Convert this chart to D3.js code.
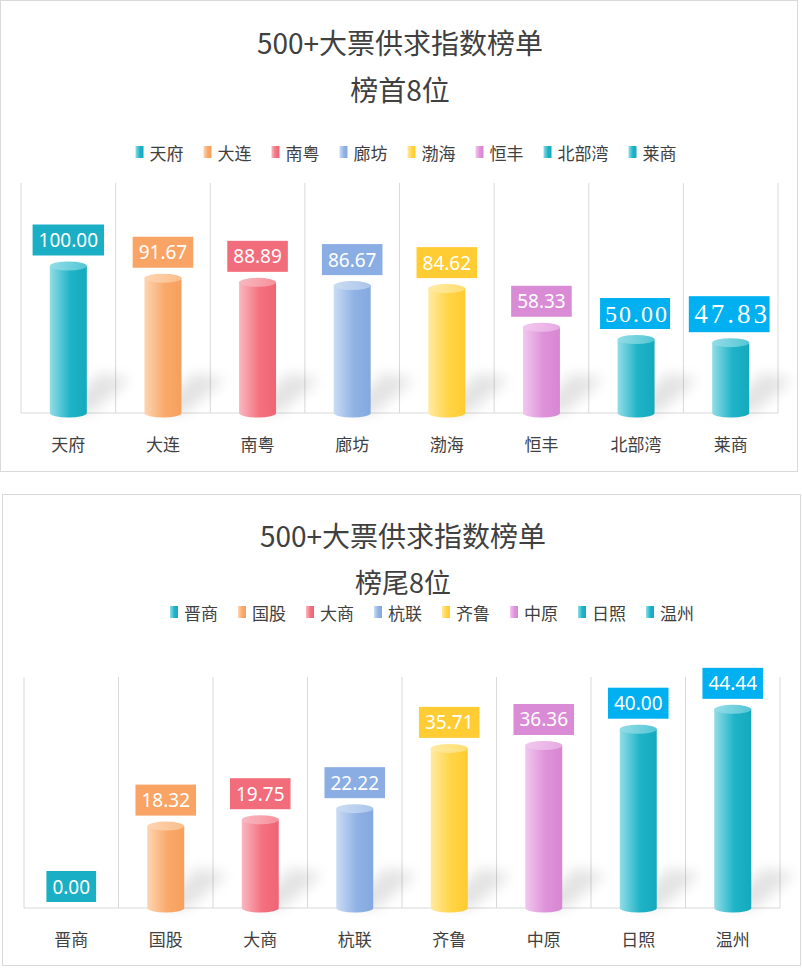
<!DOCTYPE html>
<html>
<head>
<meta charset="utf-8">
<script src="https://cdn.jsdelivr.net/npm/d3@7"></script>
<style>
  body { margin: 0; background: #fff; }
  svg { display: block; }
</style>
</head>
<body>
<svg id="chart" width="802" height="968"></svg>
<script>
// ---- data ----
const topNames  = ["天府", "大连", "南粤", "廊坊", "渤海", "恒丰", "北部湾", "莱商"];
const topValues = [100.00, 91.67, 88.89, 86.67, 84.62, 58.33, 50.00, 47.83];
const tailNames  = ["晋商", "国股", "大商", "杭联", "齐鲁", "中原", "日照", "温州"];
const tailValues = [0.00, 18.32, 19.75, 22.22, 35.71, 36.36, 40.00, 44.44];
const titleLine1 = "500+大票供求指数榜单";
const topSubtitle = "榜首8位";
const tailSubtitle = "榜尾8位";

// colour palette, in series order
const palette = [
  { light: "#93DDE7", base: "#1EB3C7", dark: "#14A9BD", label: "#1AAFC4" },
  { light: "#FDD5B2", base: "#F9A96A", dark: "#F79F5D", label: "#F9A465" },
  { light: "#F9B8C0", base: "#F4717F", dark: "#F06475", label: "#F26D7B" },
  { light: "#CBDCF3", base: "#90B2E5", dark: "#84A8DF", label: "#8AADE3" },
  { light: "#FFEAA3", base: "#FFD445", dark: "#FFCC30", label: "#FFCC33" },
  { light: "#F1C8EE", base: "#DE92D9", dark: "#D886D3", label: "#DA8BD6" },
  { light: "#93DDE7", base: "#1EB3C7", dark: "#14A9BD", label: "#00B0F0" },
  { light: "#93DDE7", base: "#1EB3C7", dark: "#14A9BD", label: "#00B0F0" }
];
const tailLabelColors = ["#1AAFC4", "#F9A465", "#F26D7B", "#8AADE3", "#FFCC33", "#DA8BD6", "#00B0F0", "#00B0F0"];

const svg = d3.select("#chart");
const defs = svg.append("defs");

// gradients for the cylinders and the legend keys
palette.forEach((p, i) => {
  const g = defs.append("linearGradient").attr("id", "body" + i)
      .attr("x1", "0%").attr("x2", "100%").attr("y1", "0%").attr("y2", "0%");
  g.append("stop").attr("offset", "0%").attr("stop-color", p.light);
  g.append("stop").attr("offset", "55%").attr("stop-color", p.base);
  g.append("stop").attr("offset", "100%").attr("stop-color", p.dark);
  const t = defs.append("linearGradient").attr("id", "cap" + i)
      .attr("x1", "0%").attr("x2", "100%").attr("y1", "0%").attr("y2", "0%");
  t.append("stop").attr("offset", "0%").attr("stop-color", p.light);
  t.append("stop").attr("offset", "100%").attr("stop-color", d3.interpolateRgb(p.light, p.base)(0.55));
});

const blur = defs.append("filter").attr("id", "shadowBlur")
    .attr("x", "-60%").attr("y", "-60%").attr("width", "220%").attr("height", "220%");
blur.append("feGaussianBlur").attr("stdDeviation", 7);

const cjk = "'Noto Sans CJK SC', 'Noto Sans', sans-serif";

function drawPanel(cfg) {
  const g = svg.append("g");

  // frame
  g.append("rect")
      .attr("x", cfg.frame[0] + 0.5).attr("y", cfg.frame[1] + 0.5)
      .attr("width", cfg.frame[2]).attr("height", cfg.frame[3])
      .attr("fill", "#fff").attr("stroke", "#D9D9D9");

  // titles
  g.append("text").attr("x", cfg.titleX).attr("y", cfg.titleY[0])
      .attr("text-anchor", "middle").attr("dominant-baseline", "central")
      .style("font-family", cjk).style("font-size", "28px").attr("fill", "#404040")
      .text(titleLine1);
  g.append("text").attr("x", cfg.titleX).attr("y", cfg.titleY[1])
      .attr("text-anchor", "middle").attr("dominant-baseline", "central")
      .style("font-family", cjk).style("font-size", cfg.subtitleSize).attr("fill", "#404040")
      .text(cfg.subtitle);

  // legend
  const legend = g.append("g");
  let lx = 0;
  cfg.names.forEach((name, i) => {
    const item = legend.append("g").attr("transform", `translate(${lx},0)`);
    item.append("rect").attr("x", 0).attr("y", -6).attr("width", 8).attr("height", 12)
        .attr("fill", `url(#body${i})`);
    const t = item.append("text").attr("x", 14).attr("y", 0)
        .attr("dominant-baseline", "central")
        .style("font-family", cjk).style("font-size", "17px").attr("fill", "#404040")
        .text(name);
    lx += 14 + t.node().getComputedTextLength() + 20;
  });
  const legendW = lx - 20;
  legend.attr("transform", `translate(${cfg.legendX - legendW / 2},${cfg.legendY})`);

  // scales
  const x = d3.scaleBand().domain(cfg.names).range(cfg.xRange).padding(0);
  const y = d3.scaleLinear().domain(cfg.yDomain).range(cfg.yRange);
  const base = y(0);

  // vertical gridlines at band edges
  const edges = cfg.names.map(n => x(n)).concat([cfg.xRange[1]]);
  g.append("g").selectAll("line").data(edges).join("line")
      .attr("x1", d => d).attr("x2", d => d)
      .attr("y1", cfg.gridTop).attr("y2", base)
      .attr("stroke", "#D9D9D9");
  g.append("line")
      .attr("x1", cfg.xRange[0]).attr("x2", cfg.xRange[1])
      .attr("y1", base).attr("y2", base)
      .attr("stroke", "#D9D9D9");

  // category axis
  const axis = g.append("g").attr("transform", `translate(0,${cfg.axisY})`)
      .call(d3.axisBottom(x).tickSize(0).tickPadding(0));
  axis.select(".domain").remove();
  axis.selectAll("text")
      .attr("dy", null).attr("dominant-baseline", "central")
      .style("font-family", cjk).style("font-size", "17px").attr("fill", "#404040");

  const rx = 18.5, ry = 4.5;
  const bars = g.append("g").selectAll("g.bar")
      .data(cfg.names.map((n, i) => ({ name: n, value: cfg.values[i], i })))
      .join("g").attr("class", "bar");

  // soft cast shadow
  bars.filter(d => d.value > 0).append("path")
      .attr("d", d => {
        const cx = x(d.name) + x.bandwidth() / 2;
        return `M${cx - 6},${base} L${cx + rx + 4},${base} L${cx + rx + 44},${base - 34} L${cx + rx + 12},${base - 40} Z`;
      })
      .attr("fill", "#000").attr("opacity", 0.11)
      .attr("filter", "url(#shadowBlur)");

  // cylinder body
  bars.filter(d => d.value > 0).append("path")
      .attr("d", d => {
        const cx = x(d.name) + x.bandwidth() / 2;
        const top = y(d.value);
        return `M${cx - rx},${top} L${cx - rx},${base} A${rx},${ry} 0 0 0 ${cx + rx},${base} L${cx + rx},${top} Z`;
      })
      .attr("fill", d => `url(#body${d.i})`);

  // cylinder cap
  bars.filter(d => d.value > 0).append("ellipse")
      .attr("cx", d => x(d.name) + x.bandwidth() / 2)
      .attr("cy", d => y(d.value))
      .attr("rx", rx).attr("ry", ry)
      .attr("fill", d => `url(#cap${d.i})`);

  // value labels in coloured boxes
  bars.each(function(d) {
    const cx = x(d.name) + x.bandwidth() / 2;
    const special = cfg.serifLabels.includes(d.i);
    const big = special && d.i === 7;
    const lg = d3.select(this).append("g");
    const txt = lg.append("text")
        .attr("x", cx).attr("text-anchor", "middle").attr("dominant-baseline", "central")
        .style("font-family", special ? "'Liberation Serif', serif" : "'Noto Sans', sans-serif")
        .style("font-size", special ? (big ? "27px" : "24px") : "19px")
        .style("letter-spacing", special ? (big ? "3px" : "2px") : null)
        .attr("fill", "#fff")
        .text(d3.format(".2f")(d.value));
    let tw = txt.node().getComputedTextLength();
    const ls = special ? (big ? 3 : 2) : 0;
    const h = special ? (big ? 36 : 31) : 31;
    const padX = special ? 4 : 6;
    const bottom = (d.value > 0 ? y(d.value) - ry : base) - 6;
    lg.insert("rect", "text")
        .attr("x", cx - tw / 2 - padX).attr("y", bottom - h)
        .attr("width", tw + padX * 2 - ls).attr("height", h)
        .attr("fill", cfg.labelColors[d.i]);
    txt.attr("x", cx + ls / 2).attr("y", bottom - h / 2);
  });
}

drawPanel({
  frame: [0, 0, 797, 471],
  titleX: 400, titleY: [42, 89], subtitle: topSubtitle, subtitleSize: "28px",
  names: topNames, values: topValues,
  labelColors: palette.map(p => p.label),
  serifLabels: [6, 7],
  legendX: 406, legendY: 152,
  xRange: [21, 778], yDomain: [0, 100], yRange: [413, 266],
  gridTop: 183, axisY: 443
});

drawPanel({
  frame: [2, 494, 798, 471],
  titleX: 403, titleY: [535, 581], subtitle: tailSubtitle, subtitleSize: "27px",
  names: tailNames, values: tailValues,
  labelColors: tailLabelColors,
  serifLabels: [],
  legendX: 432, legendY: 612,
  xRange: [24, 780], yDomain: [0, 50], yRange: [908, 684.5],
  gridTop: 677, axisY: 938
});
</script>
</body>
</html>
